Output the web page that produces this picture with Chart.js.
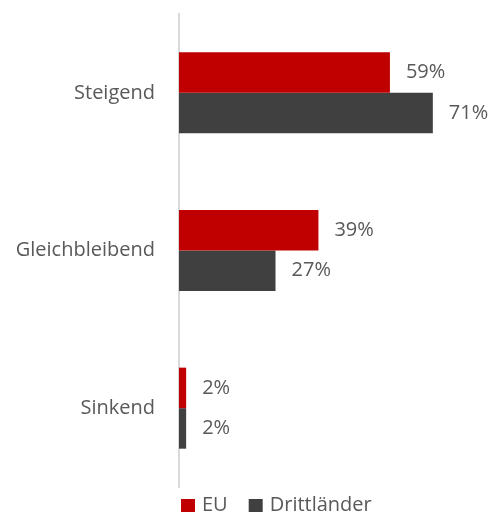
<!DOCTYPE html>
<html lang="de">
<head>
<meta charset="utf-8">
<title>Entwicklung EU / Drittländer</title>
<script src="https://cdn.jsdelivr.net/npm/chart.js@4"></script>
<style>
  html, body { margin: 0; padding: 0; background: #fff; overflow: hidden; }
  #wrap { position: relative; width: 493px; height: 512px; }
</style>
</head>
<body>
<div id="wrap"><canvas id="chart"></canvas></div>
<script>
// Anteile in Prozent je Kategorie
const categories = ['Steigend', 'Gleichbleibend', 'Sinkend'];
const euValues = [59, 39, 2];
const drittValues = [71, 27, 2];
const seriesNames = ['EU', 'Drittländer'];
const seriesColors = ['#C00000', '#404040'];

const FONT = '"Open Sans", sans-serif';
const TEXT = '#595959';

// Prozentwerte rechts neben den Balken
const valueLabels = {
  id: 'valueLabels',
  afterDatasetsDraw(chart) {
    const ctx = chart.ctx;
    ctx.save();
    ctx.font = '20px ' + FONT;
    ctx.fillStyle = TEXT;
    ctx.textAlign = 'left';
    ctx.textBaseline = 'middle';
    chart.data.datasets.forEach((ds, i) => {
      chart.getDatasetMeta(i).data.forEach((bar, j) => {
        ctx.fillText(ds.data[j] + '%', bar.x + 16, bar.y);
      });
    });
    ctx.restore();
  }
};

// Legende unten, links am Achsenstrich ausgerichtet (wird unten abgeschnitten)
const bottomLegend = {
  id: 'bottomLegend',
  afterDraw(chart) {
    const ctx = chart.ctx;
    const base = 511;
    ctx.save();
    ctx.font = '20px ' + FONT;
    ctx.textBaseline = 'alphabetic';
    ctx.textAlign = 'left';
    let x = chart.chartArea.left + 2;
    chart.data.datasets.forEach(ds => {
      ctx.fillStyle = ds.backgroundColor;
      ctx.fillRect(x, 499, 14, 14);
      ctx.fillStyle = TEXT;
      ctx.fillText(ds.label, x + 21, base);
      x += 21 + ctx.measureText(ds.label).width + 21;
    });
    ctx.restore();
  }
};

new Chart(document.getElementById('chart'), {
  type: 'bar',
  data: {
    labels: categories,
    datasets: [
      { label: seriesNames[0], data: euValues, backgroundColor: seriesColors[0] },
      { label: seriesNames[1], data: drittValues, backgroundColor: seriesColors[1] }
    ]
  },
  options: {
    indexAxis: 'y',
    responsive: true,
    maintainAspectRatio: false,
    animation: false,
    layout: { padding: { top: 14, right: 28, bottom: 25, left: 0 } },
    datasets: {
      bar: { barPercentage: 1, categoryPercentage: 0.514 }
    },
    plugins: {
      legend: { display: false },
      tooltip: { enabled: false }
    },
    scales: {
      x: {
        display: false,
        min: 0,
        max: 80
      },
      y: {
        afterFit(scale) {
          scale.width = 179;
          scale.paddingTop = 0;
          scale.paddingBottom = 0;
        },
        grid: { display: false, drawTicks: false },
        border: { display: true, color: '#D9D9D9', width: 2 },
        ticks: {
          color: TEXT,
          font: { family: FONT, size: 20 },
          padding: 24
        }
      }
    }
  },
  plugins: [valueLabels, bottomLegend]
});
</script>
</body>
</html>
